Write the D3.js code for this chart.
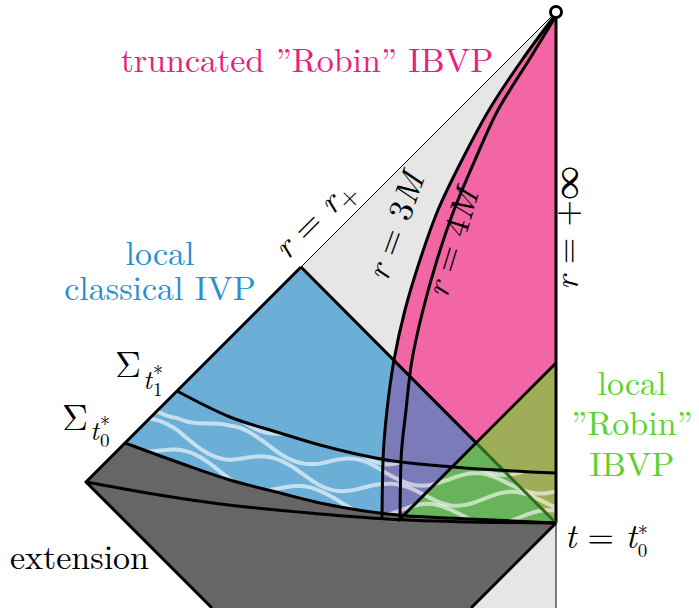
<!DOCTYPE html>
<html>
<head>
<meta charset="utf-8">
<script src="https://cdn.jsdelivr.net/npm/d3@7"></script>
<style>
  body { margin: 0; background: #fff; }
</style>
</head>
<body>
<div id="diagram"></div>
<script>
// diagram coords: X = 0 on r = +inf, T = 0 at the top corner, T grows upward
const topPt = [0, 0];
const leftPt = [-4.70, -4.70];
const ivpTop = [-2.55, -2.55];
const t0Corner = [0, -5.11];
const robinTop = [0, -3.51];
const robinFoot = [-1.58, -5.09];
const bottomLeft = [-3.44, -5.96];
const bottomRight = [-0.85, -5.96];

// hypersurfaces
const sigma0 = [[-4.31, -4.31], [-3.76, -4.51], [-3.26, -4.68], [-2.76, -4.81], [-2.36, -4.91], [-1.69, -5.02], [-0.86, -5.07], [0, -5.11]];
const sigma1 = [[-3.79, -3.79], [-3.26, -4.05], [-2.76, -4.21], [-2.36, -4.33], [-1.69, -4.48], [-1.03, -4.55], [0, -4.61]];
const slice0 = [[-4.70, -4.70], [-4.09, -4.81], [-3.43, -4.91], [-2.36, -5.02], [-1.69, -5.07], [-0.86, -5.10], [0, -5.11]];

// r = 3M and r = 4M curves
const r3M = [[0, -0.02], [-0.34, -0.48], [-0.67, -0.98], [-0.94, -1.48], [-1.18, -1.98], [-1.36, -2.48], [-1.51, -2.98], [-1.62, -3.48], [-1.69, -3.98], [-1.73, -4.48], [-1.74, -5.06]];
const r4M = [[0, -0.04], [-0.27, -0.48], [-0.58, -0.98], [-0.81, -1.48], [-1.02, -1.98], [-1.19, -2.48], [-1.33, -2.98], [-1.44, -3.48], [-1.50, -3.98], [-1.55, -4.48], [-1.56, -5.08]];

// wavy lines between sigma0 and sigma1 (fraction of the band, phase)
const waveRows = [-0.25, 0.08, 0.41, 0.74, 1.07];
const wavePhase = [0.0, 0.3, 0.6, 0.9, 0.2];

const W = 699, H = 608;
const x = d3.scaleLinear().domain([-4.7, 0]).range([86, 556]);
const y = d3.scaleLinear().domain([0, -5.96]).range([12, 608]);

const svg = d3.select("#diagram").append("svg")
    .attr("width", W).attr("height", H);

// pick an installed serif face
const hasFont = f => {
  const t = svg.append("text").attr("font-size", 40).attr("font-family", "monospace").text("mwlIBVP Robin 3M");
  const w0 = t.node().getComputedTextLength();
  t.attr("font-family", `'${f}', monospace`);
  const w1 = t.node().getComputedTextLength();
  t.remove();
  return Math.abs(w1 - w0) > 0.5;
};
const serif = ["Latin Modern Roman", "CMU Serif", "Liberation Serif", "DejaVu Serif", "Noto Serif", "FreeSerif", "Nimbus Roman", "Times New Roman"]
    .find(hasFont);
svg.attr("font-family", serif ? `'${serif}', serif` : "serif");

const line = d3.line().x(d => x(d[0])).y(d => y(d[1]));
const smoothX = d3.line().x(d => x(d[0])).y(d => y(d[1])).curve(d3.curveMonotoneX);
const smoothY = d3.line().x(d => x(d[0])).y(d => y(d[1])).curve(d3.curveMonotoneY);
const cont = s => s.replace(/^M/, "L");
const rev = a => a.slice().reverse();

const bluePath = smoothX(slice0) + cont(line([t0Corner, ivpTop, leftPt])) + "Z";
const pinkPath = smoothY(r3M) + cont(line([t0Corner, topPt])) + "Z";
const greenPath = line([robinTop, robinFoot, t0Corner]) + "Z";
const greyPath = line([leftPt, sigma0[0]]) + cont(smoothX(sigma0)) + cont(line([t0Corner, bottomRight, bottomLeft])) + "Z";
const bandPath = smoothX(sigma0) + cont(line([t0Corner, sigma1[sigma1.length - 1]])) + cont(smoothX(rev(sigma1))) + "Z";

const defs = svg.append("defs");
defs.append("clipPath").attr("id", "clipBlue").append("path").attr("d", bluePath);
defs.append("clipPath").attr("id", "clipBand").append("path").attr("d", bandPath);

// fills
svg.append("path").attr("d", line([topPt, leftPt, bottomLeft, [0, -5.96]]) + "Z").attr("fill", "#e6e6e6");
svg.append("path").attr("d", bluePath).attr("fill", "#6baed6");
svg.append("path").attr("d", pinkPath).attr("fill", "#f266a5");
svg.append("path").attr("d", pinkPath).attr("fill", "#7b7bb9").attr("clip-path", "url(#clipBlue)");

// where the blue diagonal meets the green one
const cross = (a1, a2, b1, b2) => {
  const d = (a2[0] - a1[0]) * (b2[1] - b1[1]) - (a2[1] - a1[1]) * (b2[0] - b1[0]);
  const u = ((b1[0] - a1[0]) * (b2[1] - b1[1]) - (b1[1] - a1[1]) * (b2[0] - b1[0])) / d;
  return [a1[0] + u * (a2[0] - a1[0]), a1[1] + u * (a2[1] - a1[1])];
};
const meet = cross(ivpTop, t0Corner, robinTop, robinFoot);

svg.append("path").attr("d", greenPath).attr("fill", "#9ead57");
svg.append("path").attr("d", greenPath).attr("fill", "#69b35b").attr("clip-path", "url(#clipBlue)");
svg.append("path").attr("d", greyPath).attr("fill", "#666666");

// waves
const s0 = d3.scaleLinear().domain(sigma0.map(d => d[0])).range(sigma0.map(d => d[1])).clamp(true);
const s1 = d3.scaleLinear().domain(sigma1.map(d => d[0])).range(sigma1.map(d => d[1])).clamp(true);
const xs = d3.range(-4.4, 0.06, 0.02);
const waves = svg.append("g").attr("clip-path", "url(#clipBand)");
waveRows.forEach((f, i) => {
  const pts = xs.map(X => [X, s0(X) * (1 - f) + s1(X) * f + 0.085 * Math.sin(2 * Math.PI * (X / 1.2 + wavePhase[i]))]);
  waves.append("path").attr("d", line(pts))
      .attr("fill", "none").attr("stroke", "#fff").attr("stroke-opacity", 0.6).attr("stroke-width", 4);
});

// outlines
const stroke = (d, w, c) => svg.append("path").attr("d", d).attr("fill", "none")
    .attr("stroke", c || "#000").attr("stroke-width", w).attr("stroke-linejoin", "round");

stroke(line([topPt, ivpTop]), 1);
stroke(line([ivpTop, leftPt, bottomLeft]), 3);
stroke(line([t0Corner, bottomRight]), 3);
stroke(line([topPt, t0Corner]), 3);
stroke(line([t0Corner, [0, -5.96]]), 1);
stroke(line([ivpTop, meet]), 3);
stroke(line([meet, t0Corner]), 3, "#2f6b1f");
stroke(line([robinTop, robinFoot]), 3);
stroke(smoothX(slice0), 3);
stroke(smoothX(sigma0), 3);
stroke(smoothX(sigma1), 3);
stroke(smoothY(r3M), 3);
stroke(smoothY(r4M), 3);

svg.append("circle").attr("cx", x(topPt[0])).attr("cy", y(topPt[1])).attr("r", 5.5)
    .attr("fill", "#fff").attr("stroke", "#000").attr("stroke-width", 3);

// labels
const fs = 34;
const label = (tx, ty, str, col, anchor) => svg.append("text").attr("x", tx).attr("y", ty)
    .attr("font-size", fs).attr("fill", col || "#000").attr("text-anchor", anchor || "middle").text(str);

label(307, 72, "truncated \u201dRobin\u201d IBVP", "#e8207c");
label(160, 265, "local", "#2a8fcf");
label(160, 300, "classical IVP", "#2a8fcf");
label(632, 395, "local", "#5cd22c");
label(632, 435, "\u201dRobin\u201d", "#5cd22c");
label(632, 476, "IBVP", "#5cd22c");
label(10, 569, "extension", "#000", "start");

// rotated math labels
const mathLabel = (cx, cy, ang, parts) => {
  const t = svg.append("text").attr("font-size", fs).attr("text-anchor", "middle")
      .attr("transform", `translate(${cx},${cy}) rotate(${ang})`);
  parts.forEach(p => {
    const s = t.append("tspan").text(p[0]);
    if (p[1] === "i") s.attr("font-style", "italic");
    if (p[1] === "sub") s.attr("font-size", 26).attr("dy", 7);
  });
  return t;
};
mathLabel(322, 226, -45, [["r", "i"], [" = "], ["r", "i"], ["+", "sub"]]);
mathLabel(406, 230, -70, [["r", "i"], [" = 3"], ["M", "i"]]);
mathLabel(463, 246, -73, [["r", "i"], [" = 4"], ["M", "i"]]);
mathLabel(578, 228, -90, [["r", "i"], [" = +\u221e"]]);

// t with a stacked "*" superscript and a subscript, appended to a text element
const starSub = (t, sub, dyt) => {
  t.append("tspan").attr("font-size", 27).attr("font-style", "italic").attr("dx", 2).attr("dy", dyt).text("t");
  const s = t.append("tspan").attr("font-size", 19).attr("dx", 1).attr("dy", 7).text(sub);
  const w = s.node().getComputedTextLength();
  t.append("tspan").attr("font-size", 20).attr("dx", -w).attr("dy", -16).text("*");
};

const sig1 = svg.append("text").attr("x", 115).attr("y", 377).attr("font-size", 36);
sig1.append("tspan").text("\u03a3");
starSub(sig1, "1", 12);

const sig0 = svg.append("text").attr("x", 62).attr("y", 430).attr("font-size", 36);
sig0.append("tspan").text("\u03a3");
starSub(sig0, "0", 10);

const tl = svg.append("text").attr("x", 565).attr("y", 548).attr("font-size", fs);
tl.append("tspan").attr("font-style", "italic").text("t");
tl.append("tspan").text(" = ");
const tt = tl.append("tspan").attr("font-style", "italic").text("t");
const z = tl.append("tspan").attr("font-size", 19).attr("dx", 1).attr("dy", 9).text("0");
tl.append("tspan").attr("font-size", 20).attr("dx", -z.node().getComputedTextLength()).attr("dy", -17).text("*");
</script>
</body>
</html>
